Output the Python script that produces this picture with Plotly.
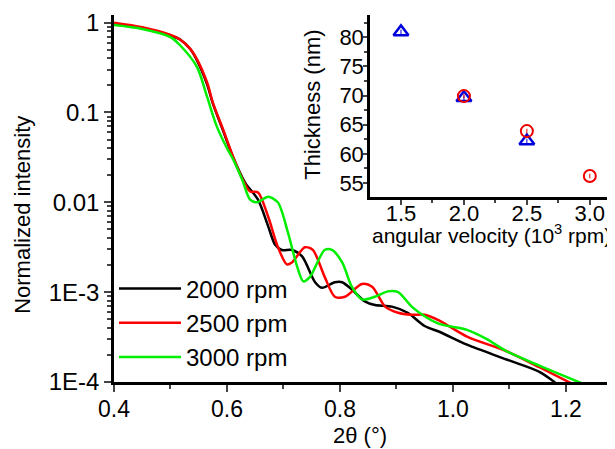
import plotly.graph_objects as go

# ---- main data: normalized XRR intensity vs 2theta ----
x_2000 = [0.40, 0.45, 0.50, 0.517, 0.535, 0.547, 0.565, 0.575, 0.593, 0.611, 0.632, 0.655, 0.673,
          0.685, 0.697, 0.715, 0.733, 0.756, 0.768, 0.791, 0.804, 0.821, 0.844, 0.862, 0.892,
          0.920, 0.950, 0.977, 1.025, 1.095, 1.154, 1.19]
y_2000 = [0.97, 0.87, 0.72, 0.65, 0.51, 0.38, 0.204, 0.126, 0.063, 0.0316, 0.0166, 0.0107, 0.0054,
          0.0034, 0.00295, 0.00295, 0.0025, 0.00129, 0.00112, 0.00129, 0.00129, 0.00107, 0.00079,
          0.00072, 0.00069, 0.00059, 0.00042, 0.00036, 0.00026, 0.000178, 0.000129, 0.000089]

x_2500 = [0.40, 0.45, 0.50, 0.517, 0.535, 0.547, 0.565, 0.575, 0.593, 0.611, 0.628, 0.641, 0.655,
          0.673, 0.690, 0.706, 0.715, 0.738, 0.752, 0.773, 0.791, 0.809, 0.839, 0.857, 0.880,
          0.903, 0.927, 0.950, 0.977, 1.025, 1.095, 1.154, 1.215]
y_2500 = [1.0, 0.89, 0.73, 0.65, 0.51, 0.39, 0.214, 0.129, 0.065, 0.032, 0.0178, 0.0132, 0.0129,
          0.0069, 0.0032, 0.00204, 0.00214, 0.00316, 0.00295, 0.00148, 0.00089, 0.00089, 0.00123,
          0.00115, 0.00069, 0.00059, 0.00056, 0.00056, 0.00048, 0.00032, 0.00022, 0.000145,
          0.000093]

x_3000 = [0.40, 0.45, 0.50, 0.517, 0.547, 0.565, 0.582, 0.60, 0.611, 0.627, 0.641, 0.653, 0.673,
          0.690, 0.708, 0.724, 0.735, 0.747, 0.773, 0.786, 0.804, 0.821, 0.839, 0.862, 0.885,
          0.903, 0.927, 0.950, 0.977, 1.025, 1.06, 1.095, 1.154, 1.235]
y_3000 = [0.94, 0.85, 0.69, 0.56, 0.32, 0.148, 0.070, 0.040, 0.030, 0.0178, 0.0107, 0.0100,
          0.0115, 0.0100, 0.0046, 0.00195, 0.00132, 0.00148, 0.00295, 0.00295, 0.00214, 0.00115,
          0.00083, 0.00089, 0.00102, 0.0010, 0.00069, 0.00054, 0.00044, 0.00038, 0.0003, 0.00022,
          0.000151, 0.000093]

series_names = ["2000 rpm", "2500 rpm", "3000 rpm"]
y_tickvals = [1e-4, 1e-3, 0.01, 0.1, 1]
y_ticktext = ["1E-4", "1E-3", "0.01", "0.1", "1"]
y_minorvals = [m * 10 ** e for e in range(-4, 1) for m in range(2, 10)]

# ---- inset data: thickness vs angular velocity ----
vel_tri = [1.5, 2.0, 2.5]
thick_tri = [80.9, 69.6, 62.2]
err_tri = [0.4, 0.4, 0.4]
vel_circ = [2.0, 2.5, 3.0]
thick_circ = [69.9, 63.9, 56.2]
err_circ = [0.4, 0.4, 0.4]

FONT = "Arial, Liberation Sans, sans-serif"

fig = go.Figure()
for xs, ys, name, col in [(x_2000, y_2000, series_names[0], "#000000"),
                          (x_2500, y_2500, series_names[1], "#ff0000"),
                          (x_3000, y_3000, series_names[2], "#00ee00")]:
    fig.add_trace(go.Scatter(x=xs, y=ys, mode="lines", name=name,
                             line=dict(color=col, width=2.5, shape="spline", smoothing=0.8),
                             xaxis="x", yaxis="y"))

fig.add_trace(go.Scatter(x=vel_tri, y=thick_tri, mode="markers", showlegend=False,
                         marker=dict(symbol="triangle-up-open", size=13, color="#0000dd",
                                     line=dict(width=2.5, color="#0000dd")),
                         error_y=dict(type="data", array=err_tri, color="#0000dd", width=0, thickness=1),
                         xaxis="x2", yaxis="y2"))
fig.add_trace(go.Scatter(x=vel_circ, y=thick_circ, mode="markers", showlegend=False,
                         marker=dict(symbol="circle-open", size=12, color="#ee0000",
                                     line=dict(width=2, color="#ee0000")),
                         error_y=dict(type="data", array=err_circ, color="#ee0000", width=0, thickness=1),
                         xaxis="x2", yaxis="y2"))

# page body adds an 8px offset; the figure is sized/margined to compensate
fig.update_layout(
    width=607, height=441,
    margin=dict(l=106, r=0, t=7, b=67, autoexpand=False),
    paper_bgcolor="white", plot_bgcolor="white",
    font=dict(family=FONT, size=22, color="black"),
    showlegend=True,
    legend=dict(x=0.0, y=0.315, xanchor="left", yanchor="top", bgcolor="rgba(0,0,0,0)",
                font=dict(size=24, family=FONT), tracegroupgap=0, itemwidth=62),
    xaxis=dict(range=[0.4, 1.287], domain=[0, 1], tickvals=[0.4, 0.6, 0.8, 1.0, 1.2],
               ticktext=["0.4", "0.6", "0.8", "1.0", "1.2"], automargin=False,
               ticks="outside", ticklen=7, tickwidth=2, showline=True, linewidth=2.5,
               linecolor="black", showgrid=False, zeroline=False, ticklabelstandoff=-2,
               minor=dict(tickvals=[0.5, 0.7, 0.9, 1.1], ticks="outside", ticklen=4, tickwidth=2),
               tickfont=dict(size=23)),
    xaxis3=dict(range=[0.4, 1.287], overlaying="x", side="top", anchor="y", dtick=0.1, tick0=0.4,
                ticks="inside", ticklen=7, tickwidth=2, showticklabels=False, showline=True,
                linewidth=2.5, linecolor="black", showgrid=False, zeroline=False, automargin=False),
    yaxis=dict(type="log", range=[-4, 0.085], domain=[0, 1], tickvals=y_tickvals,
               ticktext=y_ticktext, ticks="outside", ticklen=7, tickwidth=2, showline=True,
               linewidth=2.5, linecolor="black", showgrid=False, zeroline=False, automargin=False,
               minor=dict(tickvals=y_minorvals, ticks="outside", ticklen=4, tickwidth=1.5),
               tickfont=dict(size=24)),
    xaxis2=dict(range=[1.254, 3.2], domain=[0.511, 1.0], anchor="y2", automargin=False,
                tickvals=[1.5, 2.0, 2.5, 3.0], ticktext=["1.5", "2.0", "2.5", "3.0"],
                ticks="outside", ticklen=5, tickwidth=2, showline=True, linewidth=2.5,
                linecolor="black", showgrid=False, zeroline=False, ticklabelstandoff=-10,
                minor=dict(tickvals=[1.25, 1.75, 2.25, 2.75], ticks="outside", ticklen=3, tickwidth=2),
                tickfont=dict(size=22)),
    yaxis2=dict(range=[52.6, 83.8], domain=[0.504, 1.0], anchor="x2", automargin=False,
                tickvals=[55, 60, 65, 70, 75, 80], ticks="outside", ticklen=4, tickwidth=2,
                showline=True, linewidth=2.5, linecolor="black", showgrid=False, zeroline=False,
                ticklabelstandoff=-5,
                minor=dict(dtick=2.5, tick0=52.5, ticks="outside", ticklen=3, tickwidth=1.5),
                tickfont=dict(size=22)),
    annotations=[
        dict(text="Normalized intensity", xref="paper", yref="paper", x=-0.184, y=0.455,
             textangle=-90, showarrow=False, font=dict(size=22), xanchor="center", yanchor="middle"),
        dict(text="2θ (°)", xref="paper", yref="paper", x=0.491, y=-0.147,
             showarrow=False, font=dict(size=22), xanchor="center", yanchor="middle"),
        dict(text="Thickness (nm)", xref="paper", yref="paper", x=0.397, y=0.755,
             textangle=-90, showarrow=False, font=dict(size=22), xanchor="center", yanchor="middle"),
        dict(text="angular velocity (10<sup>3</sup> rpm)", xref="paper", yref="paper",
             x=0.754, y=0.403, showarrow=False, font=dict(size=21),
             xanchor="center", yanchor="middle"),
    ],
)

fig.write_html("out.html")
